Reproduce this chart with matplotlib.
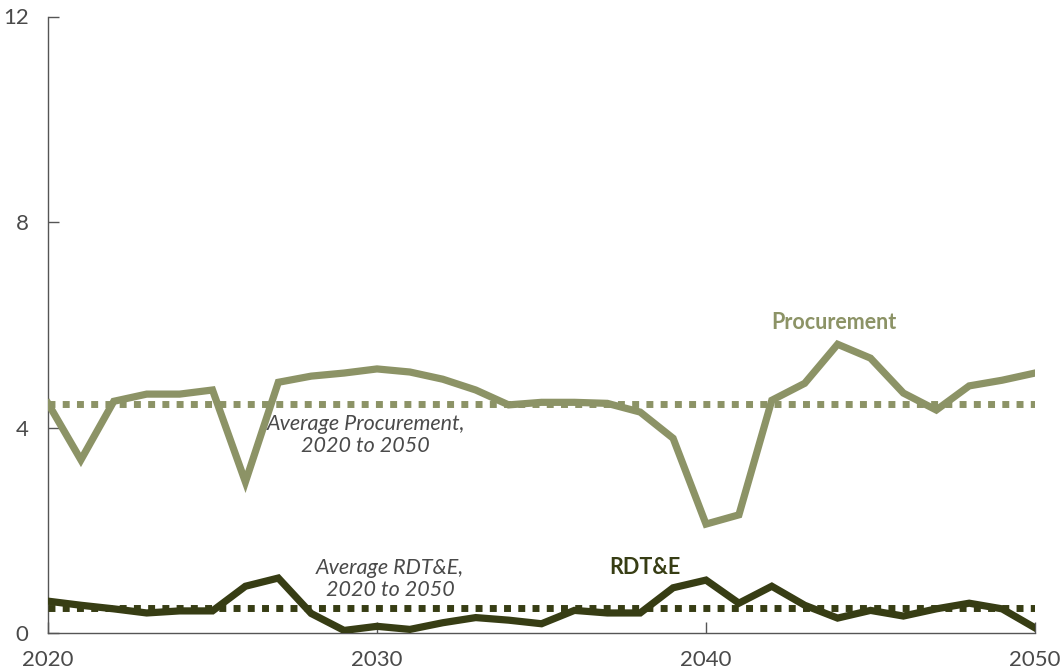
import numpy as np
import matplotlib
matplotlib.use("Agg")
import matplotlib.pyplot as plt

years = np.arange(2020, 2051)
procurement = [4.47, 3.37, 4.51, 4.65, 4.65, 4.73, 2.94, 4.88, 5.00, 5.06,
               5.14, 5.08, 4.94, 4.73, 4.44, 4.49, 4.49, 4.47, 4.30, 3.79,
               2.12, 2.30, 4.53, 4.86, 5.62, 5.35, 4.67, 4.34, 4.81, 4.92,
               5.06]
rdte = [0.62, 0.54, 0.47, 0.39, 0.43, 0.43, 0.91, 1.07, 0.38, 0.05,
        0.13, 0.07, 0.20, 0.30, 0.25, 0.18, 0.44, 0.39, 0.39, 0.88,
        1.03, 0.58, 0.91, 0.54, 0.29, 0.44, 0.33, 0.47, 0.58, 0.47,
        0.10]
avg_proc = 4.46
avg_rdte = 0.48

C_PROC = "#8c9366"
C_RDTE = "#373d14"
C_TEXT = "#4a4a4a"

plt.rcParams['font.family'] = ['Lato', 'DejaVu Sans']

fig = plt.figure(figsize=(10.6, 6.72), dpi=100)
ax = fig.add_axes([48/1060, 1 - 633/672, (1035 - 48)/1060, (633 - 16.5)/672])

ax.plot(years, procurement, color=C_PROC, lw=5.2, solid_joinstyle="miter", zorder=3)
ax.plot(years, rdte, color=C_RDTE, lw=5.2, solid_joinstyle="miter", zorder=3)
ax.plot([2020, 2050], [avg_proc, avg_proc], color=C_PROC, lw=5,
        linestyle=(0, (1, 1.05)), dash_capstyle="butt", zorder=4)
ax.plot([2020, 2050], [avg_rdte, avg_rdte], color=C_RDTE, lw=5,
        linestyle=(0, (1, 1.05)), dash_capstyle="butt", zorder=4)

ax.set_xlim(2020, 2050)
ax.set_ylim(0, 12)
ax.set_xticks([2020, 2030, 2040, 2050])
ax.set_yticks([0, 4, 8, 12])

for s in ["top", "right"]:
    ax.spines[s].set_visible(False)
for s in ["left", "bottom"]:
    ax.spines[s].set_color("#555555")
    ax.spines[s].set_linewidth(1)
    ax.spines[s].set_zorder(1)

ax.tick_params(axis="y", direction="in", length=8, width=1, color="#555555",
               labelsize=16, labelcolor=C_TEXT, pad=14)
ax.tick_params(axis="x", direction="in", length=8, width=1, color="#555555",
               labelsize=16, labelcolor=C_TEXT, pad=12)

ax.text(2029.65, 4.27, "Average Procurement,\n2020 to 2050", ha="center", va="top",
        style="italic", fontsize=15.5, color=C_TEXT, linespacing=1.15)
ax.text(2030.4, 1.46, "Average RDT&E,\n2020 to 2050", ha="center", va="top",
        style="italic", fontsize=15.5, color=C_TEXT, linespacing=1.15)
ax.text(2043.9, 6.05, "Procurement", ha="center", va="center", fontweight="bold",
        fontsize=15.5, color=C_PROC)
ax.text(2038.15, 1.28, "RDT&E", ha="center", va="center", fontweight="bold",
        fontsize=15.5, color=C_RDTE)

fig.savefig("out.png", dpi=100)
